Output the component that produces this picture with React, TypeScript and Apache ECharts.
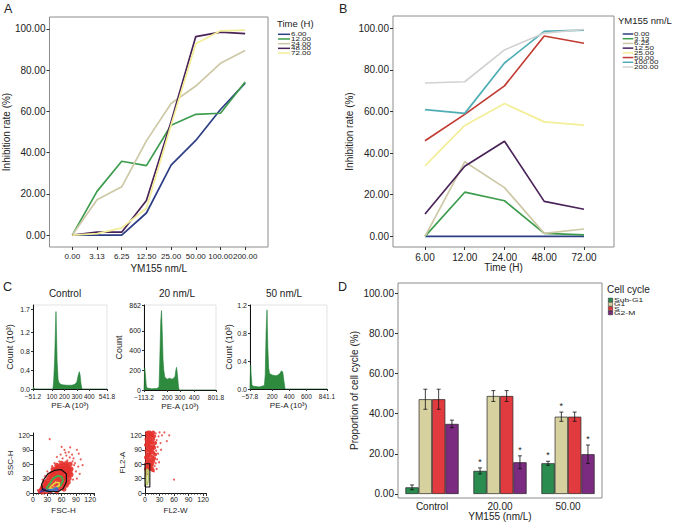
import React, { useEffect, useRef } from 'react';
import * as echarts from 'echarts';

const FONT = '"Liberation Sans", Arial, Helvetica, sans-serif';
const INK = '#222222';

// ---------- Panels A & B: inhibition rate (%) ----------
const concLabels = ['0.00', '3.13', '6.25', '12.50', '25.00', '50.00', '100.00', '200.00'];
const timeLabels = ['6.00', '12.00', '24.00', '48.00', '72.00'];
const inhib6h = [0, 0, 0, 10.7, 33.9, 45.9, 60.9, 73.7];
const inhib12h = [0, 21.2, 35.8, 33.7, 53.3, 58.6, 59.1, 74.3];
const inhib24h = [0, 17.1, 23.4, 45.7, 63.8, 72.3, 83.3, 89.6];
const inhib48h = [0, 1.4, 1.4, 16.8, 55.0, 96.3, 98.5, 97.7];
const inhib72h = [0, 0.7, 3.5, 13.0, 53.4, 92.8, 99.1, 99.4];
const inhibByTime = [inhib6h, inhib12h, inhib24h, inhib48h, inhib72h];
const palette = ['#2d3e85', '#3d9c4d', '#cdc8a6', '#4a2359', '#f3ee98', '#c23b32', '#4fadb5', '#d2d2d2'];
const pctTicks = [0, 20, 40, 60, 80, 100];

// ---------- Panel D: cell cycle ----------
const dGroups = ['Control', '20.00', '50.00'];
const phases = ['Sub-G1', 'G1', 'S', 'G2-M'];
const phaseColors = ['#2a8c4f', '#d7d1a0', '#e23b3f', '#7b2b80'];
const subG1 = [3.3, 11.5, 15.3];
const g1 = [47.2, 48.8, 38.5];
const sPhase = [47.2, 48.8, 38.5];
const g2m = [34.9, 15.8, 19.8];
const subG1Err = [1.2, 1.5, 1.0];
const g1Err = [5.0, 2.7, 2.3];
const sErr = [5.0, 2.7, 2.3];
const g2mErr = [1.9, 3.2, 4.6];
const subG1Star = [0, 1, 1];
const g1Star = [0, 0, 1];
const sStar = [0, 0, 0];
const g2mStar = [0, 1, 1];
const phaseValues = [subG1, g1, sPhase, g2m];
const phaseErrors = [subG1Err, g1Err, sErr, g2mErr];
const phaseStars = [subG1Star, g1Star, sStar, g2mStar];

// ---------- Panel C: DNA histograms ----------
const histTitles = ['Control', '20 nm/L', '50 nm/L'];
const h1XTicks = [-51.2, 100, 200, 300, 400, 541.8];
const h1YTicks = [0, 0.4, 0.8, 1.2, 1.7];
const h1X = [-51.2, -47, -42, -36, 108, 114, 122, 128, 133, 137, 142, 150, 160, 180, 220, 260, 285, 300, 312, 320, 326, 334, 342, 541.8];
const h1Y = [0, 0.03, 0.02, 0, 0, 0.15, 0.6, 1.2, 1.65, 1.2, 0.6, 0.2, 0.12, 0.09, 0.08, 0.08, 0.1, 0.15, 0.3, 0.37, 0.3, 0.1, 0, 0];

// 20 nm/L axis is not linear in the reference; tick positions (fraction of axis length) read from it
const h2XTicks = [-113.2, 200, 300, 400, 801.8];
const h2XTickPos = [0, 0.321, 0.498, 0.697, 1];
const h2YTicks = [0, 200, 400, 600, 862];
const h2X = [-113.2, -107.7, -103.6, -92.7, -82, -72.2, -8.8, 59.5, 90.7, 100.5, 114, 123.9, 133.6, 145.4, 155, 168.8, 200, 220.9, 236.7, 252.5, 262.7, 268.4, 274, 281.4, 288.9, 294.4, 801.8];
const h2Y = [0, 60, 220, 150, 40, 20, 12, 15, 30, 300, 700, 805, 600, 300, 200, 130, 110, 120, 110, 120, 140, 200, 230, 150, 40, 0, 0];

const h3XTicks = [-57.8, 200, 400, 600, 841.1];
const h3YTicks = [0, 0.4, 0.8, 1.2];
const h3X = [-57.8, -55, -50, -44, -35, -19, 50, 110, 120, 130, 141, 150, 160, 170, 200, 240, 270, 290, 310, 325, 340, 352, 841.1];
const h3Y = [0, 0.1, 0.34, 0.2, 0.06, 0.04, 0.03, 0.05, 0.2, 0.8, 1.13, 0.6, 0.3, 0.22, 0.2, 0.19, 0.2, 0.22, 0.26, 0.24, 0.1, 0, 0];

// ---------- Panel C: dot plots ----------
const sc1Core = [
  [15, 4], [18, 8], [20, 12], [22, 6], [24, 16], [26, 10], [28, 20], [30, 14], [30, 26], [32, 8], [33, 32], [35, 20],
  [36, 38], [38, 14], [38, 28], [40, 42], [41, 34], [42, 22], [44, 46], [45, 38], [46, 30], [47, 18], [48, 50], [49, 42],
  [50, 34], [52, 26], [52, 54], [53, 46], [54, 38], [55, 20], [56, 50], [57, 30], [58, 42], [58, 56], [60, 36], [60, 48],
  [61, 24], [62, 52], [63, 42], [64, 30], [65, 58], [66, 46], [67, 36], [68, 52], [69, 26], [70, 44], [71, 56], [72, 36],
  [73, 48], [74, 40], [75, 52], [76, 30], [78, 44], [62, 14], [66, 18], [70, 16], [55, 10], [45, 8], [36, 4], [28, 3],
  [50, 4], [74, 22], [80, 38], [80, 50], [78, 60], [70, 62], [60, 62], [50, 58], [42, 50], [25, 22], [20, 2], [65, 8]
];
const sc1Sparse = [
  [35, 112], [78, 95], [92, 90], [100, 70], [85, 72], [95, 55], [88, 62], [70, 78], [62, 72], [55, 66], [45, 62], [40, 56],
  [82, 80], [90, 45], [75, 85], [66, 90], [58, 80], [104, 58], [96, 82], [50, 75], [72, 68], [86, 58], [98, 40], [92, 30],
  [84, 28], [30, 45], [25, 35], [20, 28], [12, 2], [10, 6], [83, 66], [77, 74], [68, 84], [60, 96]
];
const sc1Gate = [[24, 30], [31, 40], [45, 47], [59, 49], [70, 40], [70, 23], [63, 9], [54, 3.5], [35, 2.8], [20, 7], [18, 18], [24, 30]];
const sc1Green = [[28, 10], [36, 20], [42, 30], [52, 36], [60, 34], [63, 26], [58, 16], [48, 10], [38, 7], [28, 10]];
const sc1Yellow = [[34, 9], [40, 16], [48, 22], [55, 22], [55, 15], [47, 10], [34, 9]];
const sc1Blue = [[24, 4], [32, 6], [42, 8], [50, 11], [52, 7], [44, 4], [32, 3], [24, 4]];
const sc1Navy = [[14, 2], [18, 5], [22, 9], [26, 8], [22, 4], [14, 2]];

const sc2Core = [
  [2, 50], [4, 55], [6, 52], [8, 58], [10, 50], [12, 56], [3, 62], [5, 68], [7, 64], [9, 70], [11, 62], [13, 68],
  [2, 74], [4, 80], [6, 76], [8, 82], [10, 78], [12, 84], [3, 88], [5, 94], [7, 90], [9, 96], [11, 88], [13, 94],
  [2, 100], [4, 106], [6, 102], [8, 108], [10, 100], [12, 106], [3, 112], [5, 118], [7, 114], [9, 120], [11, 112], [13, 118],
  [4, 124], [6, 126], [8, 124], [10, 126], [12, 124], [15, 60], [15, 75], [15, 90], [15, 105], [15, 120], [17, 66], [17, 84],
  [17, 98], [17, 112], [17, 126], [19, 72], [19, 94], [19, 118], [21, 80], [21, 104], [14, 52], [16, 48]
];
const sc2Sparse = [
  [22, 124], [24, 110], [26, 96], [23, 88], [25, 70], [28, 118], [30, 126], [20, 56], [22, 62], [27, 82], [32, 104], [35, 120],
  [24, 50], [18, 45], [29, 64], [40, 126], [33, 90], [2, 44], [5, 40], [1, 35], [60, 28], [50, 120], [45, 108]
];
const sc2Gate = [[0, 12.5], [10, 12.5], [10, 61], [0, 61], [0, 12.5]];
const sc2Inner = [[2, 18], [5, 17], [7, 28], [7, 42], [5, 50], [3, 46], [2, 32], [2, 18]];

// ---------- helpers ----------
const txtStyle = (size: number) => ({ fontFamily: FONT, fontSize: size, color: INK });

function fmtNum(v: number, digits: number) {
  const s = Math.abs(v).toFixed(digits);
  return v < 0 ? '\u2212' + s : s;
}

function mapH2(v: number) {
  for (let i = 0; i < h2XTicks.length - 1; i++) {
    if (v <= h2XTicks[i + 1] || i === h2XTicks.length - 2) {
      const t = (v - h2XTicks[i]) / (h2XTicks[i + 1] - h2XTicks[i]);
      return h2XTickPos[i] + t * (h2XTickPos[i + 1] - h2XTickPos[i]);
    }
  }
  return 0;
}

function vAxis(p: any) {
  return {
    type: 'value',
    gridIndex: p.grid,
    min: p.min,
    max: p.max,
    axisLine: { show: !!p.line, onZero: false, lineStyle: { color: '#111', width: 1 } },
    axisTick: { show: true, length: p.tickLen, customValues: p.ticks, lineStyle: { color: '#333', width: 1 } },
    minorTick: { show: false },
    axisLabel: {
      customValues: p.ticks, formatter: p.fmt, margin: p.margin, showMinLabel: true, showMaxLabel: true,
      hideOverlap: false, ...txtStyle(p.size),
    },
    splitLine: { show: false },
    name: p.name,
    nameLocation: 'middle',
    nameGap: p.nameGap,
    nameTextStyle: txtStyle(p.nameSize || 10),
  };
}

function scAxis(p: any) {
  return {
    type: 'value',
    gridIndex: p.grid,
    min: 0,
    max: p.max,
    interval: 30,
    axisLine: { show: true, onZero: false, lineStyle: { color: '#111', width: 1 } },
    axisTick: { show: true, length: 3, lineStyle: { color: '#333', width: 1 } },
    minorTick: p.minor ? { show: true, splitNumber: 5, length: 2, lineStyle: { color: '#333', width: 0.6 } } : { show: false },
    axisLabel: { margin: 3, showMaxLabel: false, ...txtStyle(7) },
    splitLine: { show: false },
    name: p.name,
    nameLocation: 'middle',
    nameGap: p.nameGap,
    nameTextStyle: txtStyle(8),
  };
}

function gtext(t: string, x: number, y: number, size: number, align = 'left', extra: any = {}) {
  return {
    type: 'text', x, y, silent: true, ...extra,
    style: { text: t, fill: INK, fontSize: size, fontFamily: FONT, align, verticalAlign: 'middle', textAlign: align, textVerticalAlign: 'middle' },
  };
}

function lineLegend(title: string, names: string[], colors: string[], titleX: number, titleY: number, lx1: number, lx2: number, tx: number, y0: number, step: number) {
  const els: any[] = [gtext(title, titleX, titleY, 9.5)];
  names.forEach((n, i) => {
    const y = y0 + i * step;
    els.push({ type: 'line', silent: true, shape: { x1: lx1, y1: y, x2: lx2, y2: y }, style: { stroke: colors[i], lineWidth: 1.5 } });
    els.push(gtext(n, tx, y, 8, 'left', { scaleY: 0.68 }));
  });
  return els;
}

function buildOption() {
  const grids = [
    { left: 48, top: 17, width: 220, height: 230, show: true, borderColor: '#8c8c8c', borderWidth: 1 },
    { left: 393, top: 16, width: 221, height: 231, show: true, borderColor: '#8c8c8c', borderWidth: 1 },
    { left: 398, top: 283, width: 204, height: 215, show: true, borderColor: '#8c8c8c', borderWidth: 1 },
    { left: 33, top: 305, width: 74, height: 84, show: true, borderColor: '#d2d2d2', borderWidth: 0.6 },
    { left: 144, top: 305, width: 72, height: 85, show: true, borderColor: '#d2d2d2', borderWidth: 0.6 },
    { left: 250, top: 305, width: 77, height: 84, show: true, borderColor: '#d2d2d2', borderWidth: 0.6 },
    { left: 33, top: 433, width: 61, height: 60 },
    { left: 145, top: 432, width: 61, height: 61 },
  ];

  const idx = (arr: any[]) => arr.map((_: any, i: number) => i);
  const histFmt = (v: number) => fmtNum(v, Number.isInteger(v) ? 0 : 1);

  const xAxes = [
    vAxis({ grid: 0, min: -0.925, max: 7.925, ticks: idx(concLabels), fmt: (v: number) => concLabels[Math.round(v)], margin: 5, size: 8, tickLen: 3, name: 'YM155 nm/L', nameGap: 16 }),
    vAxis({ grid: 1, min: -0.805, max: 4.755, ticks: idx(timeLabels), fmt: (v: number) => timeLabels[Math.round(v)], margin: 5, size: 10, tickLen: 3, name: 'Time (H)', nameGap: 14 }),
    {
      type: 'category', gridIndex: 2, data: dGroups,
      axisLine: { show: false, onZero: false }, axisTick: { show: false },
      axisLabel: { margin: 3, ...txtStyle(10) },
      name: 'YM155 (nm/L)', nameLocation: 'middle', nameGap: 12, nameTextStyle: txtStyle(10),
    },
    vAxis({ grid: 3, min: h1XTicks[0], max: h1XTicks[h1XTicks.length - 1], ticks: h1XTicks, fmt: histFmt, margin: 4, size: 6.5, tickLen: 2, line: true, name: 'PE-A (10\u00b3)', nameGap: 12, nameSize: 8 }),
    vAxis({ grid: 4, min: 0, max: 1, ticks: h2XTickPos, fmt: (v: number) => { const i = h2XTickPos.findIndex((p) => Math.abs(p - v) < 1e-6); return histFmt(h2XTicks[i]); }, margin: 4, size: 6.5, tickLen: 2, line: true, name: 'PE-A (10\u00b3)', nameGap: 12, nameSize: 8 }),
    vAxis({ grid: 5, min: h3XTicks[0], max: h3XTicks[h3XTicks.length - 1], ticks: h3XTicks, fmt: histFmt, margin: 4, size: 6.5, tickLen: 2, line: true, name: 'PE-A (10\u00b3)', nameGap: 12, nameSize: 8 }),
    scAxis({ grid: 6, max: 128, minor: true, name: 'FSC-H', nameGap: 13 }),
    scAxis({ grid: 7, max: 126, minor: true, name: 'FL2-W', nameGap: 13 }),
  ];

  const yAxes = [
    vAxis({ grid: 0, min: -5.8, max: 105.8, ticks: pctTicks, fmt: (v: number) => v.toFixed(2), margin: 4, size: 10, tickLen: 3, name: 'Inhibition rate (%)', nameGap: 36 }),
    vAxis({ grid: 1, min: -5.14, max: 105.9, ticks: pctTicks, fmt: (v: number) => v.toFixed(2), margin: 4, size: 10, tickLen: 3, name: 'Inhibition rate (%)', nameGap: 35 }),
    vAxis({ grid: 2, min: -2, max: 105.1, ticks: pctTicks, fmt: (v: number) => v.toFixed(2), margin: 4, size: 10, tickLen: 3, name: 'Proportion of cell cycle (%)', nameGap: 35 }),
    vAxis({ grid: 3, min: 0, max: 1.79, ticks: h1YTicks, fmt: (v: number) => v.toFixed(1), margin: 3, size: 7, tickLen: 2, line: true, name: 'Count (10\u00b3)', nameGap: 19, nameSize: 9 }),
    vAxis({ grid: 4, min: 0, max: 862, ticks: h2YTicks, fmt: (v: number) => String(v), margin: 3, size: 7, tickLen: 2, line: true, name: 'Count', nameGap: 21, nameSize: 9 }),
    vAxis({ grid: 5, min: 0, max: 1.2, ticks: h3YTicks, fmt: (v: number) => v.toFixed(1), margin: 3, size: 7, tickLen: 2, line: true, name: 'Count (10\u00b3)', nameGap: 17, nameSize: 9 }),
    scAxis({ grid: 6, max: 125, name: 'SSC-H', nameGap: 16 }),
    scAxis({ grid: 7, max: 127, name: 'FL2-A', nameGap: 19 }),
  ];

  const series: any[] = [];

  // Panel A: one line per time point
  timeLabels.forEach((t, ti) => {
    series.push({
      name: t, type: 'line', xAxisIndex: 0, yAxisIndex: 0, symbol: 'none',
      data: concLabels.map((_, ci) => [ci, inhibByTime[ti][ci]]),
      lineStyle: { color: palette[ti], width: 1.7 }, itemStyle: { color: palette[ti] },
    });
  });

  // Panel B: one line per concentration
  concLabels.forEach((c, ci) => {
    series.push({
      name: c, type: 'line', xAxisIndex: 1, yAxisIndex: 1, symbol: 'none',
      data: timeLabels.map((_, ti) => [ti, inhibByTime[ti][ci]]),
      lineStyle: { color: palette[ci], width: 1.7 }, itemStyle: { color: palette[ci] },
    });
  });

  // Panel D: bars + error bars
  const BAR_W = 13.3;
  phases.forEach((ph, si) => {
    series.push({
      name: ph, type: 'bar', xAxisIndex: 2, yAxisIndex: 2, barWidth: BAR_W, barGap: '0%',
      data: phaseValues[si],
      itemStyle: { color: phaseColors[si], borderColor: '#222', borderWidth: 0.7 },
    });
  });
  phases.forEach((ph, si) => {
    series.push({
      type: 'custom', xAxisIndex: 2, yAxisIndex: 2, z: 5,
      data: dGroups.map((_, gi) => [gi, phaseValues[si][gi], phaseErrors[si][gi], phaseStars[si][gi]]),
      renderItem: (params: any, api: any) => {
        const ci = api.value(0);
        const v = api.value(1);
        const e = api.value(2);
        const star = api.value(3);
        const c = api.coord([ci, v]);
        const x = c[0] + (si - 1.5) * BAR_W;
        const yTop = api.coord([ci, v + e])[1];
        const yBot = api.coord([ci, v - e])[1];
        const st = { stroke: '#111', lineWidth: 0.8 };
        const children: any[] = [
          { type: 'line', shape: { x1: x, y1: yTop, x2: x, y2: yBot }, style: st },
          { type: 'line', shape: { x1: x - 2, y1: yTop, x2: x + 2, y2: yTop }, style: st },
          { type: 'line', shape: { x1: x - 2, y1: yBot, x2: x + 2, y2: yBot }, style: st },
        ];
        if (star) {
          children.push({ type: 'text', style: { text: '*', x, y: yTop - 6, fill: INK, fontSize: 9, fontFamily: FONT, align: 'center', verticalAlign: 'middle' } });
        }
        return { type: 'group', children };
      },
    });
  });

  // Panel C histograms
  const histStyle = (xi: number) => ({
    type: 'line', xAxisIndex: xi, yAxisIndex: xi, symbol: 'none', silent: true,
    lineStyle: { color: '#23803a', width: 0.6 }, areaStyle: { color: '#2e8b3e', opacity: 1 },
  });
  series.push({ ...histStyle(3), data: h1X.map((x, i) => [x, h1Y[i]]) });
  series.push({ ...histStyle(4), data: h2X.map((x, i) => [mapH2(x), h2Y[i]]) });
  series.push({ ...histStyle(5), data: h3X.map((x, i) => [x, h3Y[i]]) });

  // Panel C dot plots
  const red = '#e5312c';
  const loop = (xi: number, data: number[][], color: string, w: number) => ({
    type: 'line', xAxisIndex: xi, yAxisIndex: xi, symbol: 'none', silent: true, data, z: 4,
    lineStyle: { color, width: w },
  });
  series.push({ type: 'scatter', xAxisIndex: 6, yAxisIndex: 6, data: sc1Sparse, symbolSize: 2, itemStyle: { color: red, opacity: 0.8 }, silent: true });
  series.push({ type: 'scatter', xAxisIndex: 6, yAxisIndex: 6, data: sc1Core, symbolSize: 5, itemStyle: { color: red, opacity: 0.9 }, silent: true });
  series.push(loop(6, sc1Green, '#3fae4a', 2));
  series.push(loop(6, sc1Yellow, '#e8d43a', 1.6));
  series.push(loop(6, sc1Blue, '#3a6fd0', 1.6));
  series.push(loop(6, sc1Navy, '#4b3b9a', 1.4));
  series.push(loop(6, sc1Gate, '#111', 1.2));

  series.push({ type: 'scatter', xAxisIndex: 7, yAxisIndex: 7, data: sc2Sparse, symbolSize: 2, itemStyle: { color: red, opacity: 0.8 }, silent: true });
  series.push({ type: 'scatter', xAxisIndex: 7, yAxisIndex: 7, data: sc2Core, symbolSize: 4, itemStyle: { color: red, opacity: 0.9 }, silent: true });
  series.push(loop(7, sc2Inner, '#b8c25e', 1.6));
  series.push(loop(7, sc2Gate, '#111', 1.1));

  // graphic: panel letters, titles, legends
  const els: any[] = [
    gtext('A', 4, 9, 12.5),
    gtext('B', 339, 9, 12.5),
    gtext('C', 3, 286.5, 12.5),
    gtext('D', 338, 286.5, 12.5),
    gtext(histTitles[0], 65, 293, 10, 'center'),
    gtext(histTitles[1], 177, 293, 10, 'center'),
    gtext(histTitles[2], 284, 293, 10, 'center'),
  ];
  els.push(...lineLegend('Time (H)', timeLabels, palette, 277, 23.3, 278, 290, 291, 34.3, 4.68));
  els.push(...lineLegend('YM155 nm/L', concLabels, palette, 618, 20.7, 622.7, 633.3, 634, 34, 4.71));
  els.push(gtext('Cell cycle', 607, 289, 10));
  phases.forEach((ph, i) => {
    const y = 300 + i * 4.3;
    els.push({ type: 'rect', silent: true, shape: { x: 608.3, y: y - 1.9, width: 4.4, height: 3.8 }, style: { fill: phaseColors[i], stroke: '#222', lineWidth: 0.5 } });
    els.push(gtext(ph, 614, y, 8.5, 'left', { scaleY: 0.66 }));
  });

  return {
    animation: false,
    backgroundColor: '#ffffff',
    textStyle: { fontFamily: FONT },
    grid: grids,
    xAxis: xAxes,
    yAxis: yAxes,
    series,
    graphic: { elements: els },
  };
}

export default function App() {
  const ref = useRef<HTMLDivElement>(null);
  useEffect(() => {
    const chart = echarts.init(ref.current as HTMLDivElement, null, { renderer: 'svg' });
    chart.setOption(buildOption() as any);
    return () => chart.dispose();
  }, []);
  return <div ref={ref} style={{ position: 'absolute', left: 0, top: 0, width: 674, height: 523, background: '#fff' }} />;
}
